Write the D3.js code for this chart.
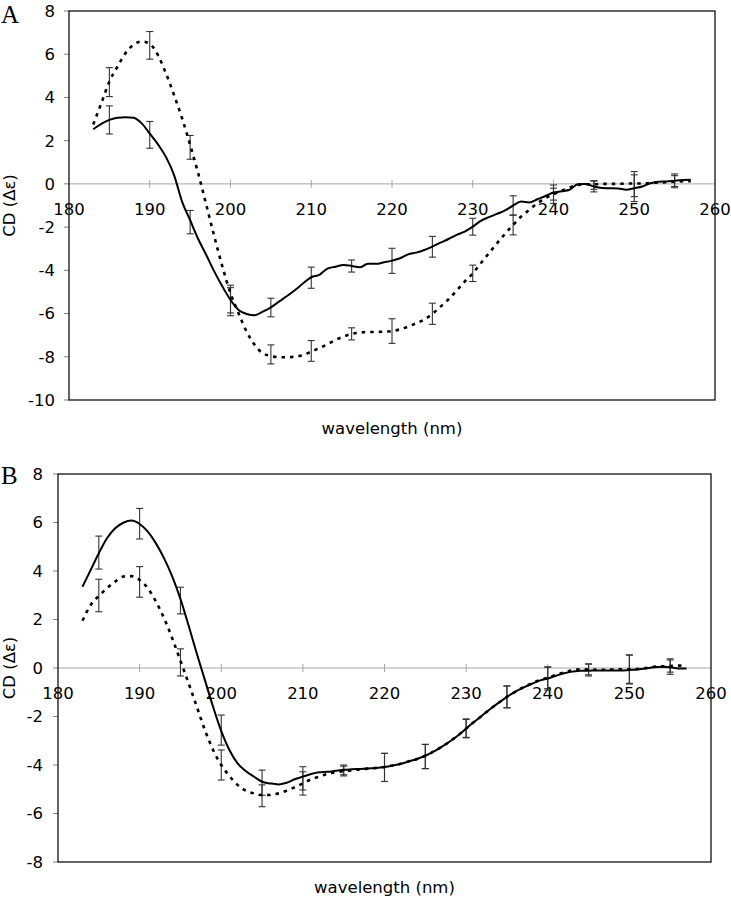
<!DOCTYPE html>
<html>
<head>
<meta charset="utf-8">
<script src="https://cdn.jsdelivr.net/npm/d3@7/dist/d3.min.js"></script>
<style>
  html, body { margin: 0; padding: 0; background: #fff; }
  svg { display: block; }
  text { font-family: "DejaVu Sans", Verdana, sans-serif; fill: #000; }
</style>
</head>
<body>
<svg id="chart" width="731" height="900"></svg>
<script>
// ---------- DATA ----------
const wavelengths = [183,184,185,186,187,188,189,190,191,192,193,194,195,196,197,198,199,200,
  201,202,203,204,205,206,207,208,209,210,211,212,213,214,215,216,217,218,219,220,
  221,222,223,224,225,226,227,228,229,230,231,232,233,234,235,236,237,238,239,240,
  241,242,243,244,245,246,247,248,249,250,251,252,253,254,255,256,257];

const aSolid = [2.53,2.78,2.96,3.06,3.08,3.06,2.8,2.33,1.84,1.25,0.42,-0.82,-1.68,-2.55,-3.29,-4.06,-4.75,-5.37,
  -5.83,-6.02,-6.08,-5.91,-5.71,-5.45,-5.19,-4.91,-4.6,-4.32,-4.21,-3.92,-3.83,-3.75,-3.8,-3.86,-3.7,-3.7,-3.63,-3.55,
  -3.44,-3.26,-3.18,-3.06,-2.9,-2.72,-2.55,-2.36,-2.21,-1.98,-1.71,-1.54,-1.39,-1.23,-1.0,-0.82,-0.86,-0.71,-0.56,-0.4,
  -0.34,-0.27,-0.02,0.0,-0.12,-0.19,-0.2,-0.21,-0.27,-0.2,-0.12,0.03,0.1,0.11,0.15,0.18,0.19];

const aDotted = [2.75,3.73,4.74,5.43,6.05,6.44,6.59,6.48,5.97,5.12,4.12,3.04,1.81,0.49,-0.97,-2.44,-3.83,-5.06,
  -5.99,-6.84,-7.45,-7.84,-7.96,-8.02,-8.02,-7.99,-7.92,-7.76,-7.6,-7.42,-7.22,-7.07,-6.94,-6.88,-6.85,-6.85,-6.84,-6.81,
  -6.73,-6.6,-6.45,-6.27,-6.02,-5.68,-5.34,-4.94,-4.52,-4.14,-3.67,-3.21,-2.75,-2.31,-1.9,-1.51,-1.2,-0.9,-0.66,-0.48,
  -0.32,-0.17,-0.05,-0.02,-0.02,0,0,0,0.02,0.02,0.02,0.04,0.06,0.08,0.1,0.12,0.12];

const bSolid = [3.35,4.04,4.73,5.35,5.76,5.99,6.08,5.94,5.62,5.14,4.52,3.77,2.85,1.75,0.6,-0.5,-1.6,-2.6,
  -3.38,-3.93,-4.25,-4.48,-4.69,-4.76,-4.8,-4.73,-4.59,-4.48,-4.37,-4.3,-4.28,-4.24,-4.2,-4.18,-4.16,-4.14,-4.12,-4.08,
  -4.02,-3.95,-3.85,-3.75,-3.62,-3.45,-3.25,-3.03,-2.78,-2.5,-2.22,-1.95,-1.68,-1.43,-1.19,-0.98,-0.81,-0.66,-0.52,-0.43,
  -0.32,-0.22,-0.15,-0.11,-0.11,-0.1,-0.1,-0.1,-0.1,-0.08,-0.06,-0.02,0.03,0.05,0.03,-0.02,-0.02];

const bDotted = [1.95,2.6,2.97,3.29,3.56,3.77,3.79,3.63,3.29,2.74,2.05,1.22,0.3,-0.63,-1.59,-2.56,-3.38,-4.0,
  -4.45,-4.82,-5.06,-5.17,-5.24,-5.24,-5.17,-5.06,-4.92,-4.76,-4.59,-4.48,-4.37,-4.3,-4.25,-4.22,-4.18,-4.15,-4.12,-4.08,
  -4.02,-3.95,-3.85,-3.75,-3.62,-3.45,-3.25,-3.03,-2.78,-2.5,-2.22,-1.95,-1.68,-1.43,-1.19,-0.98,-0.8,-0.64,-0.5,-0.4,
  -0.28,-0.18,-0.1,-0.05,-0.06,-0.07,-0.07,-0.06,-0.05,-0.05,-0.04,0,0.05,0.07,0.08,0.1,0.1];

// error bars: wavelengths, centres and half-lengths
const errWl = [185,190,195,200,205,210,215,220,225,230,235,240,245,250,255];
const aSolidErrMean = [2.96,2.27,-1.77,-5.33,-5.72,-4.34,-3.8,-3.56,-2.91,-1.98,-1.0,-0.4,-0.12,-0.2,0.17];
const aSolidErr     = [0.65,0.62,0.54,0.64,0.43,0.49,0.28,0.58,0.48,0.39,0.45,0.35,0.25,0.62,0.29];
const aDottedErrMean= [4.71,6.41,1.69,-5.45,-7.89,-7.73,-6.94,-6.81,-6.01,-4.14,-1.9,-0.55,-0.05,-0.01,0.1];
const aDottedErr    = [0.67,0.64,0.55,0.65,0.44,0.48,0.28,0.57,0.49,0.38,0.46,0.35,0.2,0.58,0.28];
const bSolidErrMean = [4.76,5.95,2.78,-2.56,-4.73,-4.55,-4.2,-4.1,-3.65,-2.48,-1.19,-0.44,-0.08,-0.06,0.06];
const bSolidErr     = [0.68,0.63,0.55,0.62,0.52,0.48,0.2,0.58,0.5,0.38,0.45,0.47,0.25,0.6,0.32];
const bDottedErrMean= [2.99,3.55,0.23,-4.0,-5.27,-4.76,-4.25,-4.1,-3.65,-2.5,-1.19,-0.4,-0.06,-0.05,0.08];
const bDottedErr    = [0.67,0.63,0.56,0.62,0.45,0.48,0.2,0.58,0.5,0.38,0.45,0.45,0.22,0.58,0.25];

const xTicks = [180,190,200,210,220,230,240,250,260];
const yTicksA = [8,6,4,2,0,-2,-4,-6,-8,-10];
const yTicksB = [8,6,4,2,0,-2,-4,-6,-8];

const xTitle = "wavelength (nm)";
const yTitle = "CD (Δε)";

// ---------- DRAW ----------
const svg = d3.select("#chart");

function panel(cfg) {
  const g = svg.append("g");
  const x = d3.scaleLinear().domain([180, 260]).range([cfg.left, cfg.right]);
  const y = d3.scaleLinear().domain([cfg.ymin, cfg.ymax]).range([cfg.bottom, cfg.top]);

  // zero line
  g.append("line")
    .attr("x1", cfg.left).attr("x2", cfg.right)
    .attr("y1", y(0)).attr("y2", y(0))
    .attr("stroke", "#a6a6a6").attr("stroke-width", 1);

  // x ticks (crossing the zero line)
  g.selectAll(".xt").data(xTicks.slice(1, -1)).join("line")
    .attr("x1", d => x(d)).attr("x2", d => x(d))
    .attr("y1", y(0) - 4).attr("y2", y(0) + 4)
    .attr("stroke", "#a6a6a6").attr("stroke-width", 1);

  // x tick labels
  g.selectAll(".xl").data(xTicks).join("text")
    .attr("x", d => x(d)).attr("y", y(0) + 31)
    .attr("text-anchor", "middle")
    .attr("font-size", 16.5)
    .text(d => d);

  // y ticks
  g.selectAll(".yt").data(cfg.yTicks).join("line")
    .attr("x1", cfg.left - 5).attr("x2", cfg.left)
    .attr("y1", d => y(d)).attr("y2", d => y(d))
    .attr("stroke", "#808080").attr("stroke-width", 1);

  g.selectAll(".yl").data(cfg.yTicks).join("text")
    .attr("x", cfg.left - cfg.ylabGap).attr("y", d => y(d))
    .attr("dy", "0.36em")
    .attr("text-anchor", "end")
    .attr("font-size", 16.5)
    .text(d => d);

  // frame
  g.append("rect")
    .attr("x", cfg.left).attr("y", cfg.top)
    .attr("width", cfg.right - cfg.left).attr("height", cfg.bottom - cfg.top)
    .attr("fill", "none").attr("stroke", "#111").attr("stroke-width", 1.3);

  const line = d3.line()
    .x((d, i) => x(wavelengths[i]))
    .y(d => y(d))
    .curve(d3.curveMonotoneX);

  // error bars
  function bars(means, errs) {
    const eg = g.append("g").attr("stroke", "#333").attr("stroke-width", 1.1).attr("fill", "none");
    errWl.forEach((w, i) => {
      const cx = x(w), y1 = y(means[i] + errs[i]), y2 = y(means[i] - errs[i]);
      eg.append("line").attr("x1", cx).attr("x2", cx).attr("y1", y1).attr("y2", y2);
      eg.append("line").attr("x1", cx - 3.5).attr("x2", cx + 3.5).attr("y1", y1).attr("y2", y1);
      eg.append("line").attr("x1", cx - 3.5).attr("x2", cx + 3.5).attr("y1", y2).attr("y2", y2);
    });
  }
  bars(cfg.solidErrMean, cfg.solidErr);
  bars(cfg.dottedErrMean, cfg.dottedErr);

  g.append("path").datum(cfg.dotted)
    .attr("d", line).attr("fill", "none")
    .attr("stroke", "#000").attr("stroke-width", 2.6)
    .attr("stroke-dasharray", "3.5,5");

  g.append("path").datum(cfg.solid)
    .attr("d", line).attr("fill", "none")
    .attr("stroke", "#000").attr("stroke-width", 2);

  // titles
  g.append("text")
    .attr("x", (cfg.left + cfg.right) / 2).attr("y", cfg.xTitleY)
    .attr("text-anchor", "middle").attr("font-size", 16.5)
    .text(xTitle);

  g.append("text")
    .attr("transform", `translate(15,${(cfg.top + cfg.bottom) / 2}) rotate(-90)`)
    .attr("text-anchor", "middle").attr("font-size", 16.5)
    .text(yTitle);

  g.append("text")
    .attr("x", cfg.letterX).attr("y", cfg.letterY)
    .style("font-family", "'Liberation Serif', 'Times New Roman', serif")
    .attr("font-size", 25)
    .text(cfg.letter);
}

panel({
  letter: "A", letterX: 1, letterY: 23,
  left: 69, right: 715, top: 11, bottom: 400,
  ymin: -10, ymax: 8, yTicks: yTicksA, ylabGap: 14,
  solid: aSolid, dotted: aDotted,
  solidErrMean: aSolidErrMean, solidErr: aSolidErr,
  dottedErrMean: aDottedErrMean, dottedErr: aDottedErr,
  xTitleY: 434
});

panel({
  letter: "B", letterX: 1, letterY: 484,
  left: 58, right: 711, top: 474, bottom: 862,
  ymin: -8, ymax: 8, yTicks: yTicksB, ylabGap: 15,
  solid: bSolid, dotted: bDotted,
  solidErrMean: bSolidErrMean, solidErr: bSolidErr,
  dottedErrMean: bDottedErrMean, dottedErr: bDottedErr,
  xTitleY: 893
});
</script>
</body>
</html>
